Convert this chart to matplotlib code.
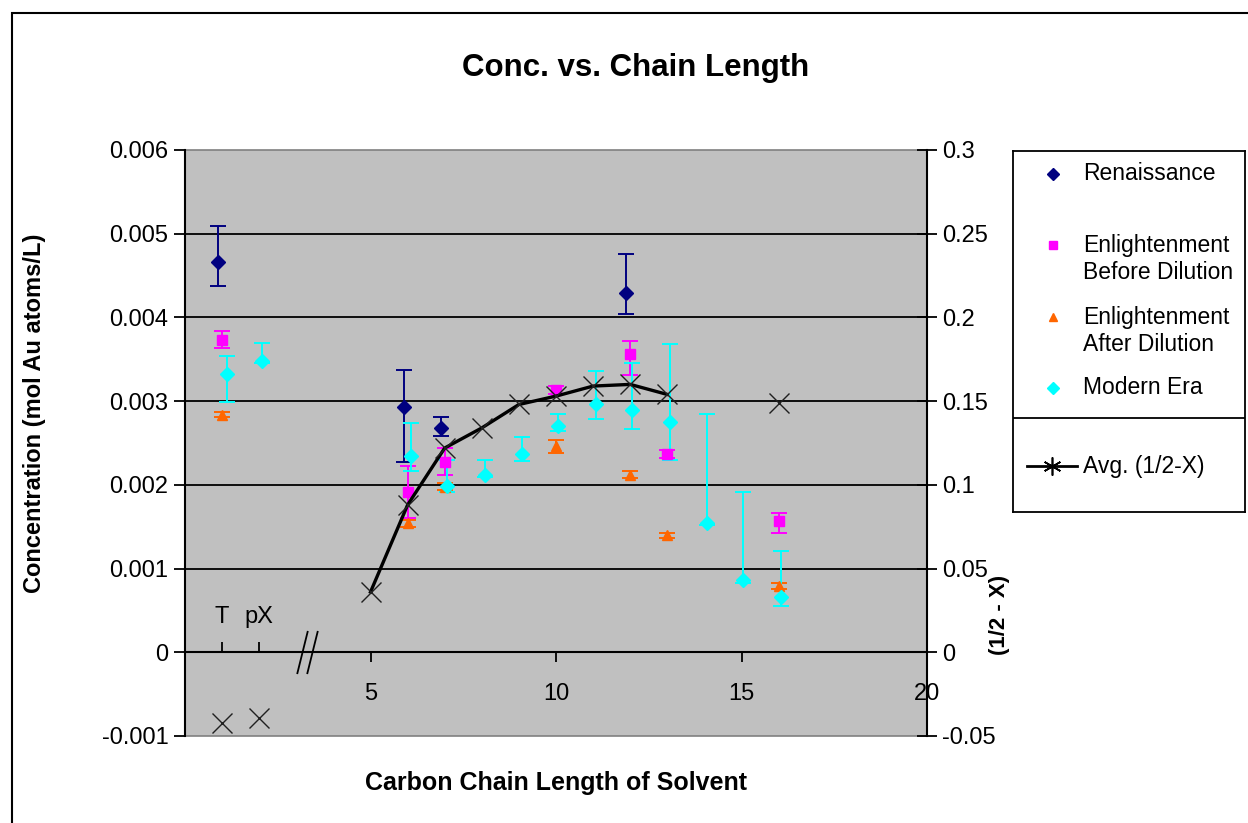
import numpy as np
import matplotlib
matplotlib.use("Agg")
import matplotlib.pyplot as plt
from matplotlib.path import Path
from matplotlib.patches import Rectangle
from matplotlib.ticker import FuncFormatter

plt.rcParams['font.family'] = ['Liberation Sans', 'DejaVu Sans']

W, H = 1248, 823

# ── Data (concentration in mol Au atoms/L) ───────────────────────────────────
ren_x = [0.9, 5.9, 6.9, 11.9]
ren_y = [0.00466, 0.00293, 0.00268, 0.00429]
ren_lo = [0.00028, 0.00066, 0.00010, 0.00025]
ren_hi = [0.00043, 0.00044, 0.00013, 0.00047]

before_x = [1, 6, 7, 10, 12, 13, 16]
before_y = [0.00373, 0.00191, 0.00227, 0.00313, 0.00356, 0.00237, 0.00157]
before_lo = [0.00009, 0.00031, 0.00015, 0.00005, 0.00025, 0.00005, 0.00015]
before_hi = [0.00011, 0.00032, 0.00017, 0.00005, 0.00016, 0.00005, 0.00009]

after_x = [1, 6, 7, 10, 12, 13, 16]
after_y = [0.00284, 0.00154, 0.00198, 0.00246, 0.00212, 0.00140, 0.00079]
after_err = [0.00003, 0.00004, 0.00004, 0.00008, 0.00004, 0.00003, 0.00004]

modern_x = [1.12, 2.08, 6.1, 7.07, 8.08, 9.09, 10.06, 11.07, 12.04, 13.06, 14.07, 15.03, 16.06]
modern_y = [0.00332, 0.00348, 0.00234, 0.00199, 0.00212, 0.00237, 0.00270,
            0.00296, 0.00290, 0.00275, 0.00155, 0.00086, 0.00066]
modern_lo = [0.00033, 0.00003, 0.00017, 0.00008, 0.00003, 0.00008, 0.00006,
             0.00017, 0.00023, 0.00045, 0.00003, 0.00003, 0.00011]
modern_hi = [0.00022, 0.00022, 0.00040, 0.00031, 0.00018, 0.00020, 0.00015,
             0.00040, 0.00056, 0.00093, 0.00130, 0.00105, 0.00055]

# average (1/2 - X), right axis
avg_x = [1, 2, 5, 6, 7, 8, 9, 10, 11, 12, 13, 16]
avg_y = [-0.042, -0.039, 0.036, 0.088, 0.122, 0.134, 0.148, 0.153, 0.159, 0.160, 0.154, 0.149]
avg_line_range = (5, 13)   # the connecting line only spans these chain lengths

x_ticks = [5, 10, 15, 20]
x_special = [1, 2]
x_special_labels = ['T', 'pX']
y_ticks = np.arange(-0.001, 0.0061, 0.001)
y2_ticks = np.arange(-0.05, 0.301, 0.05)

NAVY, MAGENTA, ORANGE, CYAN = '#000080', '#FF00FF', '#FF6600', '#00FFFF'
BG = '#C0C0C0'


def fmt(v, _pos=None):
    s = f"{v:.3f}".rstrip('0').rstrip('.')
    return '0' if s in ('-0', '0') else s


# ── Figure ───────────────────────────────────────────────────────────────────
fig = plt.figure(figsize=(W / 100, H / 100), dpi=100)
fig.patch.set_facecolor('white')
fig.add_artist(Rectangle((12 / W, -0.1), 1.2, (H - 13) / H + 0.1, transform=fig.transFigure,
                         fill=False, edgecolor='black', linewidth=1.5))

L, R, T, B = 185, 927, 150, 736
ax = fig.add_axes([L / W, (H - B) / H, (R - L) / W, (B - T) / H])
ax.set_facecolor(BG)
ax.patch.set_edgecolor('#808080')
ax.patch.set_linewidth(1.2)
ax.set_xlim(0, 20)
ax.set_ylim(-0.001, 0.006)

for s in ['top', 'right']:
    ax.spines[s].set_visible(False)
ax.spines['left'].set_linewidth(1.5)
ax.spines['bottom'].set_position(('data', 0))
ax.spines['bottom'].set_linewidth(1.5)

ax.hlines(y_ticks[(y_ticks > 0.0005) & (y_ticks < 0.0055)], 0, 20, colors='black', linewidth=1.3, zorder=1)

ax.set_yticks(y_ticks)
ax.yaxis.set_major_formatter(FuncFormatter(fmt))
ax.tick_params(axis='y', direction='out', length=8, width=1.3, labelsize=17, pad=4)

ax.set_xticks(x_ticks, [str(t) for t in x_ticks])
ax.tick_params(axis='x', which='major', direction='out', length=7, width=1.3, labelsize=17, pad=15)
ax.set_xticks(x_special, x_special_labels, minor=True)
ax.tick_params(axis='x', which='minor', direction='in', length=7, width=1.3, labelsize=17, pad=-33)

# axis break mark "//"
brk = Path([(-0.48, -1), (0.016, 1), (-0.016, -1), (0.48, 1)],
           [Path.MOVETO, Path.LINETO, Path.MOVETO, Path.LINETO])
ax.plot([3.28], [0], marker=brk, markersize=31, color='black', markeredgewidth=1.3,
        linestyle='none', zorder=5, clip_on=False)

eb = dict(linestyle='none', elinewidth=1.4, capsize=5.5, capthick=1.4, zorder=3)
ax.errorbar(ren_x, ren_y, yerr=[ren_lo, ren_hi], fmt='D', color=NAVY, ecolor=NAVY,
            markersize=7, **eb)
ax.errorbar(before_x, before_y, yerr=[before_lo, before_hi], fmt='s', color=MAGENTA,
            ecolor=MAGENTA, markersize=7, **eb)
ax.errorbar(after_x, after_y, yerr=after_err, fmt='^', color=ORANGE, ecolor=ORANGE,
            markersize=7, **eb)
ax.errorbar(modern_x, modern_y, yerr=[modern_lo, modern_hi], fmt='D', color=CYAN,
            ecolor=CYAN, markersize=7, **eb)

ax.set_ylabel('Concentration (mol Au atoms/L)', fontsize=17, fontweight='bold')
ax.yaxis.set_label_coords(-0.188, 0.55)
ax.set_xlabel('Carbon Chain Length of Solvent', fontsize=18, fontweight='bold')
ax.xaxis.set_label_coords(0.5, -0.06)

# ── Secondary axis ──────────────────────────────────────────────────────────
ax2 = ax.twinx()
ax2.set_ylim(-0.05, 0.3)
ax2.set_yticks(y2_ticks)
ax2.yaxis.set_major_formatter(FuncFormatter(fmt))
ax2.tick_params(axis='y', direction='inout', length=14, width=1.3, labelsize=17, pad=4)
for s in ['top', 'left', 'bottom']:
    ax2.spines[s].set_visible(False)
ax2.spines['right'].set_linewidth(1.5)

ax_arr = np.array(avg_x)
ay_arr = np.array(avg_y)
m = (ax_arr >= avg_line_range[0]) & (ax_arr <= avg_line_range[1])
ax2.plot(ax_arr[m], ay_arr[m], color='black', linewidth=2.4, zorder=4)
ax2.plot(ax_arr, ay_arr, linestyle='none', marker='x', markersize=15,
         markeredgewidth=1.0, color='#202020', zorder=5)
fig.text(1000 / W, 1 - 615 / H, '(1/2 - X)', rotation=90, fontsize=16, fontweight='bold',
         ha='center', va='center')

# ── Title ────────────────────────────────────────────────────────────────────
fig.text(636 / W, 1 - 68 / H, 'Conc. vs. Chain Length', fontsize=22.5, fontweight='bold',
         ha='center', va='center')

# ── Legend (drawn as an Excel-style boxed panel) ─────────────────────────────
lx0, ly0, lx1, ly1 = 1013, 151, 1245, 512
lg = fig.add_axes([lx0 / W, (H - ly1) / H, (lx1 - lx0) / W, (ly1 - ly0) / H])
lg.set_xlim(0, lx1 - lx0)
lg.set_ylim(ly1 - ly0, 0)
lg.set_xticks([])
lg.set_yticks([])
lg.set_facecolor('white')
for s in lg.spines.values():
    s.set_linewidth(1.3)
lg.axhline(418 - ly0, color='black', linewidth=1.3)

entries = [('Renaissance', 'D', NAVY, 174, 174),
           ('Enlightenment\nBefore Dilution', 's', MAGENTA, 245, 259),
           ('Enlightenment\nAfter Dilution', '^', ORANGE, 317, 331),
           ('Modern Era', 'D', CYAN, 388, 388)]
for label, mk, col, my, ty in entries:
    lg.plot([40], [my - ly0], marker=mk, color=col, markersize=6, linestyle='none')
    lg.text(70, ty - ly0, label, fontsize=16.5, ha='left', va='center', linespacing=1.2)

lg.plot([14, 64], [466 - ly0] * 2, color='black', linewidth=2)
lg.plot([39], [466 - ly0], marker=(6, 2, 0), markersize=13, markeredgewidth=1.2,
        color='black', linestyle='none')
lg.text(70, 466 - ly0, 'Avg. (1/2-X)', fontsize=16.5, ha='left', va='center')

fig.savefig('out.png', dpi=100)
